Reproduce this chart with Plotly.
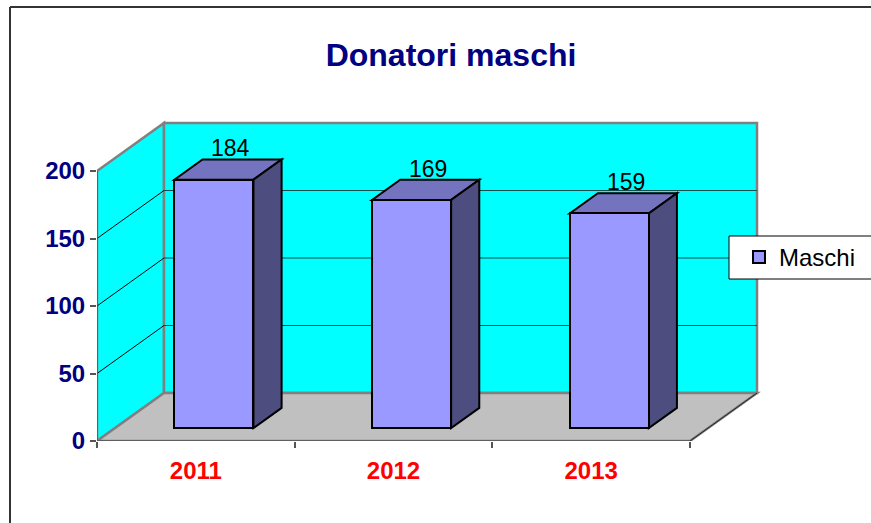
import plotly.graph_objects as go

# ---------------- data ----------------
years = ["2011", "2012", "2013"]
maschi = [184, 169, 159]
y_ticks = [0, 50, 100, 150, 200]
series_name = "Maschi"
title_text = "Donatori maschi"

# ---------------- geometry / style ----------------
W, H = 871, 523
ML, MR, MT, MB = 97, 100, 100, 82
PX_PER_CAT = 197.67
PX_PER_VAL = 1.35
plot_w = W - ML - MR
plot_h = H - MT - MB
DDX = 67 / PX_PER_CAT      # depth offset in category units
DDY = 48 / PX_PER_VAL      # depth offset in value units
T0, T1 = 0.27, 0.69        # bar depth span (fraction of full depth)
BAR_LO, BAR_HI = 0.3, 0.7  # bar span inside category
T_LAB = 0.52

FONT = "Liberation Sans, Arial, sans-serif"
CYAN = "#00FFFF"
FLOOR = "#C0C0C0"
WALL_EDGE = "#808080"
FRONT = "#9999FF"
TOP = "#7373BF"
SIDE = "#4D4D80"

n = len(years)
ymax = y_ticks[-1]


def d(x, y, t):
    return (x + t * DDX, y + t * DDY)


def path(pts):
    return "M " + " L ".join(f"{x:.5f},{y:.5f}" for x, y in pts) + " Z"


def xp(px):
    return (px - ML) / plot_w


def yp(py):
    return (H - MB - py) / plot_h


shapes = []
# side wall
shapes.append(dict(type="path", xref="x", yref="y", layer="below",
                   path=path([d(0, 0, 0), d(0, ymax, 0), d(0, ymax, 1), d(0, 0, 1)]),
                   fillcolor=CYAN, line=dict(color=WALL_EDGE, width=2.5)))
# back wall
bx0, by0 = d(0, 0, 1)
bx1, by1 = d(n, ymax, 1)
shapes.append(dict(type="rect", xref="x", yref="y", layer="below",
                   x0=bx0, y0=by0, x1=bx1, y1=by1,
                   fillcolor=CYAN, line=dict(color=WALL_EDGE, width=2.5)))
# floor
shapes.append(dict(type="path", xref="x", yref="y", layer="below",
                   path=path([d(0, 0, 0), d(n, 0, 0), d(n, 0, 1), d(0, 0, 1)]),
                   fillcolor=FLOOR, line=dict(color=WALL_EDGE, width=2.5)))
# floor right edge
fx0, fy0 = d(n, 0, 0)
fx1, fy1 = d(n, 0, 1)
shapes.append(dict(type="line", xref="x", yref="y", layer="below",
                   x0=fx0, y0=fy0, x1=fx1, y1=fy1, line=dict(color="#222222", width=1)))
# gridlines
for v in y_ticks[1:-1]:
    gx0, gy0 = d(0, v, 1)
    gx1, gy1 = d(n, v, 1)
    shapes.append(dict(type="line", xref="x", yref="y", layer="below",
                       x0=gx0, y0=gy0, x1=gx1, y1=gy1, line=dict(color="#0b4d4d", width=1)))
    sx0, sy0 = d(0, v, 0)
    shapes.append(dict(type="line", xref="x", yref="y", layer="below",
                       x0=sx0, y0=sy0, x1=gx0, y1=gy0, line=dict(color="#000000", width=1)))
# front axis lines
shapes.append(dict(type="line", xref="x", yref="y", layer="below",
                   x0=0, y0=0, x1=n, y1=0, line=dict(color="#555555", width=1.5)))
shapes.append(dict(type="line", xref="x", yref="y", layer="below",
                   x0=0, y0=0, x1=0, y1=ymax, line=dict(color="#555555", width=1.5)))

# bar top & side faces
bar_x = []
annotations = []
for i, v in enumerate(maschi):
    L, R = i + BAR_LO, i + BAR_HI
    shapes.append(dict(type="path", xref="x", yref="y", layer="below",
                       path=path([d(L, v, T0), d(R, v, T0), d(R, v, T1), d(L, v, T1)]),
                       fillcolor=TOP, line=dict(color="#000000", width=2)))
    shapes.append(dict(type="path", xref="x", yref="y", layer="below",
                       path=path([d(R, 0, T0), d(R, v, T0), d(R, v, T1), d(R, 0, T1)]),
                       fillcolor=SIDE, line=dict(color="#000000", width=2)))
    bar_x.append(d(i + 0.5, 0, T0)[0])
    lx, ly = d(i + 0.5, v, T_LAB)
    _, ly_back = d(0, v, T1)
    annotations.append(dict(x=lx, y=ly_back, xref="x", yref="y", text=str(v),
                            showarrow=False, yanchor="middle", xanchor="center",
                            yshift=11, font=dict(family=FONT, size=23, color="#000000")))

# outer chart border
shapes.append(dict(type="line", xref="paper", yref="paper", layer="above",
                   x0=xp(10), y0=yp(7), x1=xp(10), y1=yp(540), line=dict(color="#333333", width=2)))
shapes.append(dict(type="line", xref="paper", yref="paper", layer="above",
                   x0=xp(10), y0=yp(7), x1=xp(890), y1=yp(7), line=dict(color="#333333", width=2)))
# legend box
shapes.append(dict(type="rect", xref="paper", yref="paper", layer="above",
                   x0=xp(729), y0=yp(279), x1=xp(890), y1=yp(236),
                   fillcolor="#FFFFFF", line=dict(color="#000000", width=1)))

fig = go.Figure()
fig.add_trace(go.Bar(
    x=bar_x, y=maschi, base=[T0 * DDY] * n, width=BAR_HI - BAR_LO,
    name=series_name, marker=dict(color=FRONT, line=dict(color="#000000", width=2)),
    showlegend=True, hoverinfo="skip"))

fig.update_layout(
    width=W, height=H,
    margin=dict(l=ML, r=MR, t=MT, b=MB, autoexpand=False),
    paper_bgcolor="#FFFFFF", plot_bgcolor="rgba(0,0,0,0)",
    title=dict(text=title_text, x=451 / W, xref="container", xanchor="center",
               y=1 - 54.5 / H, yref="container", yanchor="middle",
               font=dict(family=FONT, size=32, color="#000080", weight="bold")),
    xaxis=dict(range=[0, plot_w / PX_PER_CAT], tickmode="array",
               tickvals=[i + 0.5 for i in range(n)], ticktext=years,
               ticks="", showgrid=False, zeroline=False, showline=False,
               automargin=False, fixedrange=True, ticklabelstandoff=13,
               tickfont=dict(family=FONT, size=24, color="#FF0000", weight="bold"),
               minor=dict(tickmode="array", tickvals=list(range(n + 1)), ticks="outside",
                          ticklen=6, tickwidth=1.5, tickcolor="#555555", showgrid=False)),
    yaxis=dict(range=[0, plot_h / PX_PER_VAL], tickmode="array", tickvals=y_ticks,
               ticks="outside", ticklen=6, tickwidth=1.5, tickcolor="#555555",
               showgrid=False, zeroline=False, showline=False, automargin=False,
               fixedrange=True,
               tickfont=dict(family=FONT, size=24, color="#000080", weight="bold")),
    shapes=shapes,
    annotations=annotations,
    showlegend=True,
    legend=dict(x=xp(739), xref="paper", xanchor="left", y=yp(257.5), yanchor="middle",
                bgcolor="rgba(0,0,0,0)", borderwidth=0,
                font=dict(family=FONT, size=24, color="#000000")),
    bargap=0,
)

fig.write_html("out.html", config={"displayModeBar": False},
               post_script="document.body.style.margin='0';document.body.style.overflow='hidden';")
